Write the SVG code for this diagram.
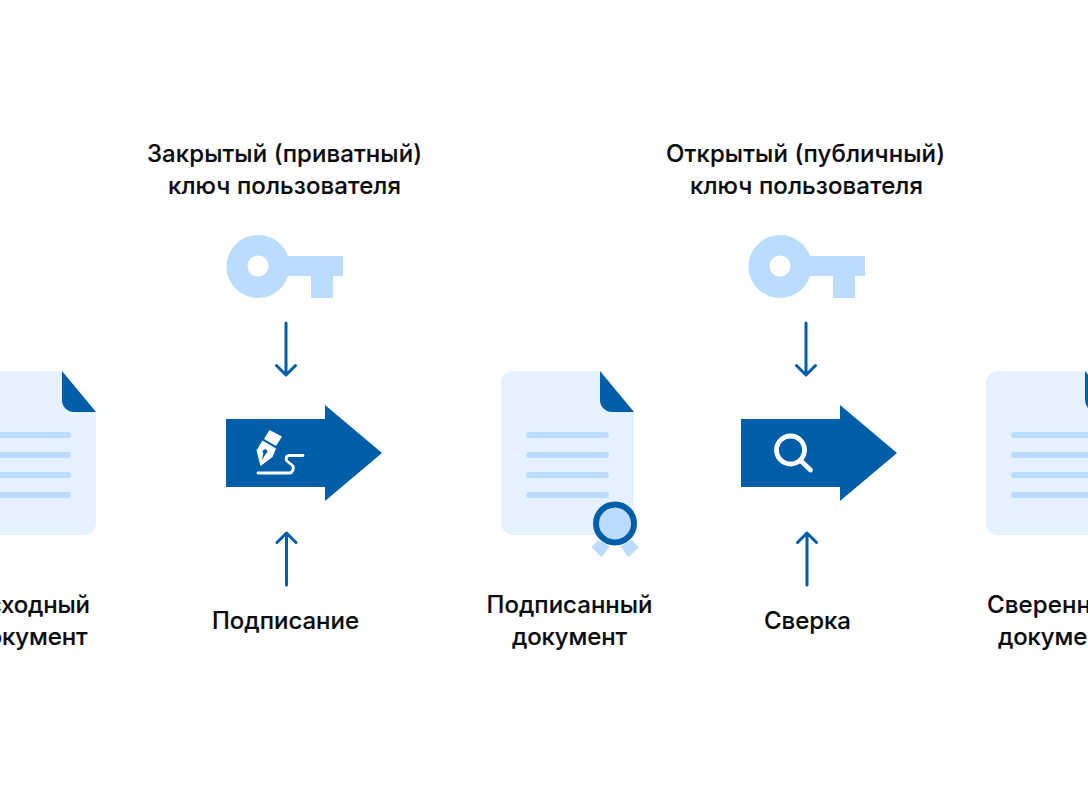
<svg xmlns="http://www.w3.org/2000/svg" width="1088" height="789" viewBox="0 0 1088 789">
<style>
text{font-family:"Inter","Noto Sans","Liberation Sans",sans-serif;font-size:24px;font-weight:500;fill:#0b0b0f;text-anchor:middle;stroke:#0b0b0f;stroke-width:.15}
.page{fill:#e5f1fe}.fold{fill:#005ea8}.ln{fill:#bbdcff}.key{fill:#bbdcff}.solid{fill:#005ea8}
.conn{fill:none;stroke:#005ea8;stroke-width:3;stroke-linecap:round;stroke-linejoin:round}
.w{fill:none;stroke:#fff;stroke-linecap:round;stroke-linejoin:round}
</style>
<defs>
<g id="doc">
<path class="page" d="M12 0H99L133 41V152a12 12 0 0 1-12 12H12a12 12 0 0 1-12-12V12A12 12 0 0 1 12 0Z"/>
<path class="fold" d="M99 0L133 41H111a12 12 0 0 1-12-12Z"/>
<rect class="ln" x="25" y="61" width="83" height="6" rx="3"/>
<rect class="ln" x="25" y="81" width="83" height="6" rx="3"/>
<rect class="ln" x="25" y="101" width="83" height="6" rx="3"/>
<rect class="ln" x="25" y="121" width="83" height="6" rx="3"/>
</g>
<g id="keyshape">
<path class="key" fill-rule="evenodd" d="M258 235a31.500 31.500 0 0 1 30 21H343V276H333V298H311V276H288A31.500 31.500 0 1 1 258 235ZM258 255.500a10.500 10.500 0 1 0 0 21a10.500 10.500 0 1 0 0-21Z"/>
</g>
</defs>
<g id="doc-source"><use href="#doc" x="-37" y="371"/></g>
<g id="key-private"><use href="#keyshape"/></g>
<g id="sign">
<path class="solid" d="M226 419H325V405L382 453L325 501V487H226Z"/>
<path fill="#fff" d="M269.500 430L282 436.500L276 446L264 439Z"/>
<path fill="#fff" fill-rule="evenodd" d="M262.500 440.500L276 448.500L272.500 457L260.500 466L256.500 450.500ZM264.500 449.500a2 2 0 0 0-1.200 3.500L262 460L266 453.500a2 2 0 0 0-1.500-4Z"/>
<path class="w" stroke-width="2.800" d="M303 455.500H289.500c-3.500 0-4.500 4-2 6l4.500 3.500c2.500 2 1 8-2.500 8H258"/>
</g>
<g id="doc-signed">
<use href="#doc" x="501" y="371"/>
<path class="ln" d="M598 540L609.500 546L601.700 557.500L591.500 547.500ZM632 540L620.500 546L628.300 557.500L638.500 547.500Z"/>
<circle cx="615" cy="523.500" r="19" fill="#bbdcff" stroke="#005ea8" stroke-width="6"/>
</g>
<g id="key-public"><use href="#keyshape" x="522"/></g>
<g id="verify">
<path class="solid" d="M741 419H840V405L897 453L840 501V487H741Z"/>
<circle class="w" cx="790.500" cy="450" r="14" stroke-width="4.800"/>
<path class="w" stroke-width="4.800" d="M801 461L810.500 470"/>
</g>
<g id="doc-verified"><use href="#doc" x="986" y="371"/></g>
<g id="connectors">
<path class="conn" d="M286 323V375M276.500 365.500L286 375L295.500 365.500"/>
<path class="conn" d="M286.500 585V533M277 542.500L286.500 533L296 542.500"/>
<path class="conn" d="M806 323V375M796.500 365.500L806 375L815.500 365.500"/>
<path class="conn" d="M807 585V533M797.500 542.500L807 533L816.500 542.500"/>
</g>
<g id="labels">
<text x="284.500" y="162" textLength="275">Закрытый (приватный)</text>
<text x="284.500" y="194" textLength="233">ключ пользователя</text>
<text x="805.500" y="162" textLength="279">Открытый (публичный)</text>
<text x="806.500" y="194" textLength="233">ключ пользователя</text>
<text x="30" y="613" textLength="120">Исходный</text>
<text x="30" y="645" textLength="115">документ</text>
<text x="285.500" y="629" textLength="147">Подписание</text>
<text x="569.500" y="613" textLength="166">Подписанный</text>
<text x="569.500" y="645" textLength="115">документ</text>
<text x="807.500" y="629" textLength="87">Сверка</text>
<text x="1055.500" y="613" textLength="137">Сверенный</text>
<text x="1055.500" y="645" textLength="115">документ</text>
</g>
</svg>
